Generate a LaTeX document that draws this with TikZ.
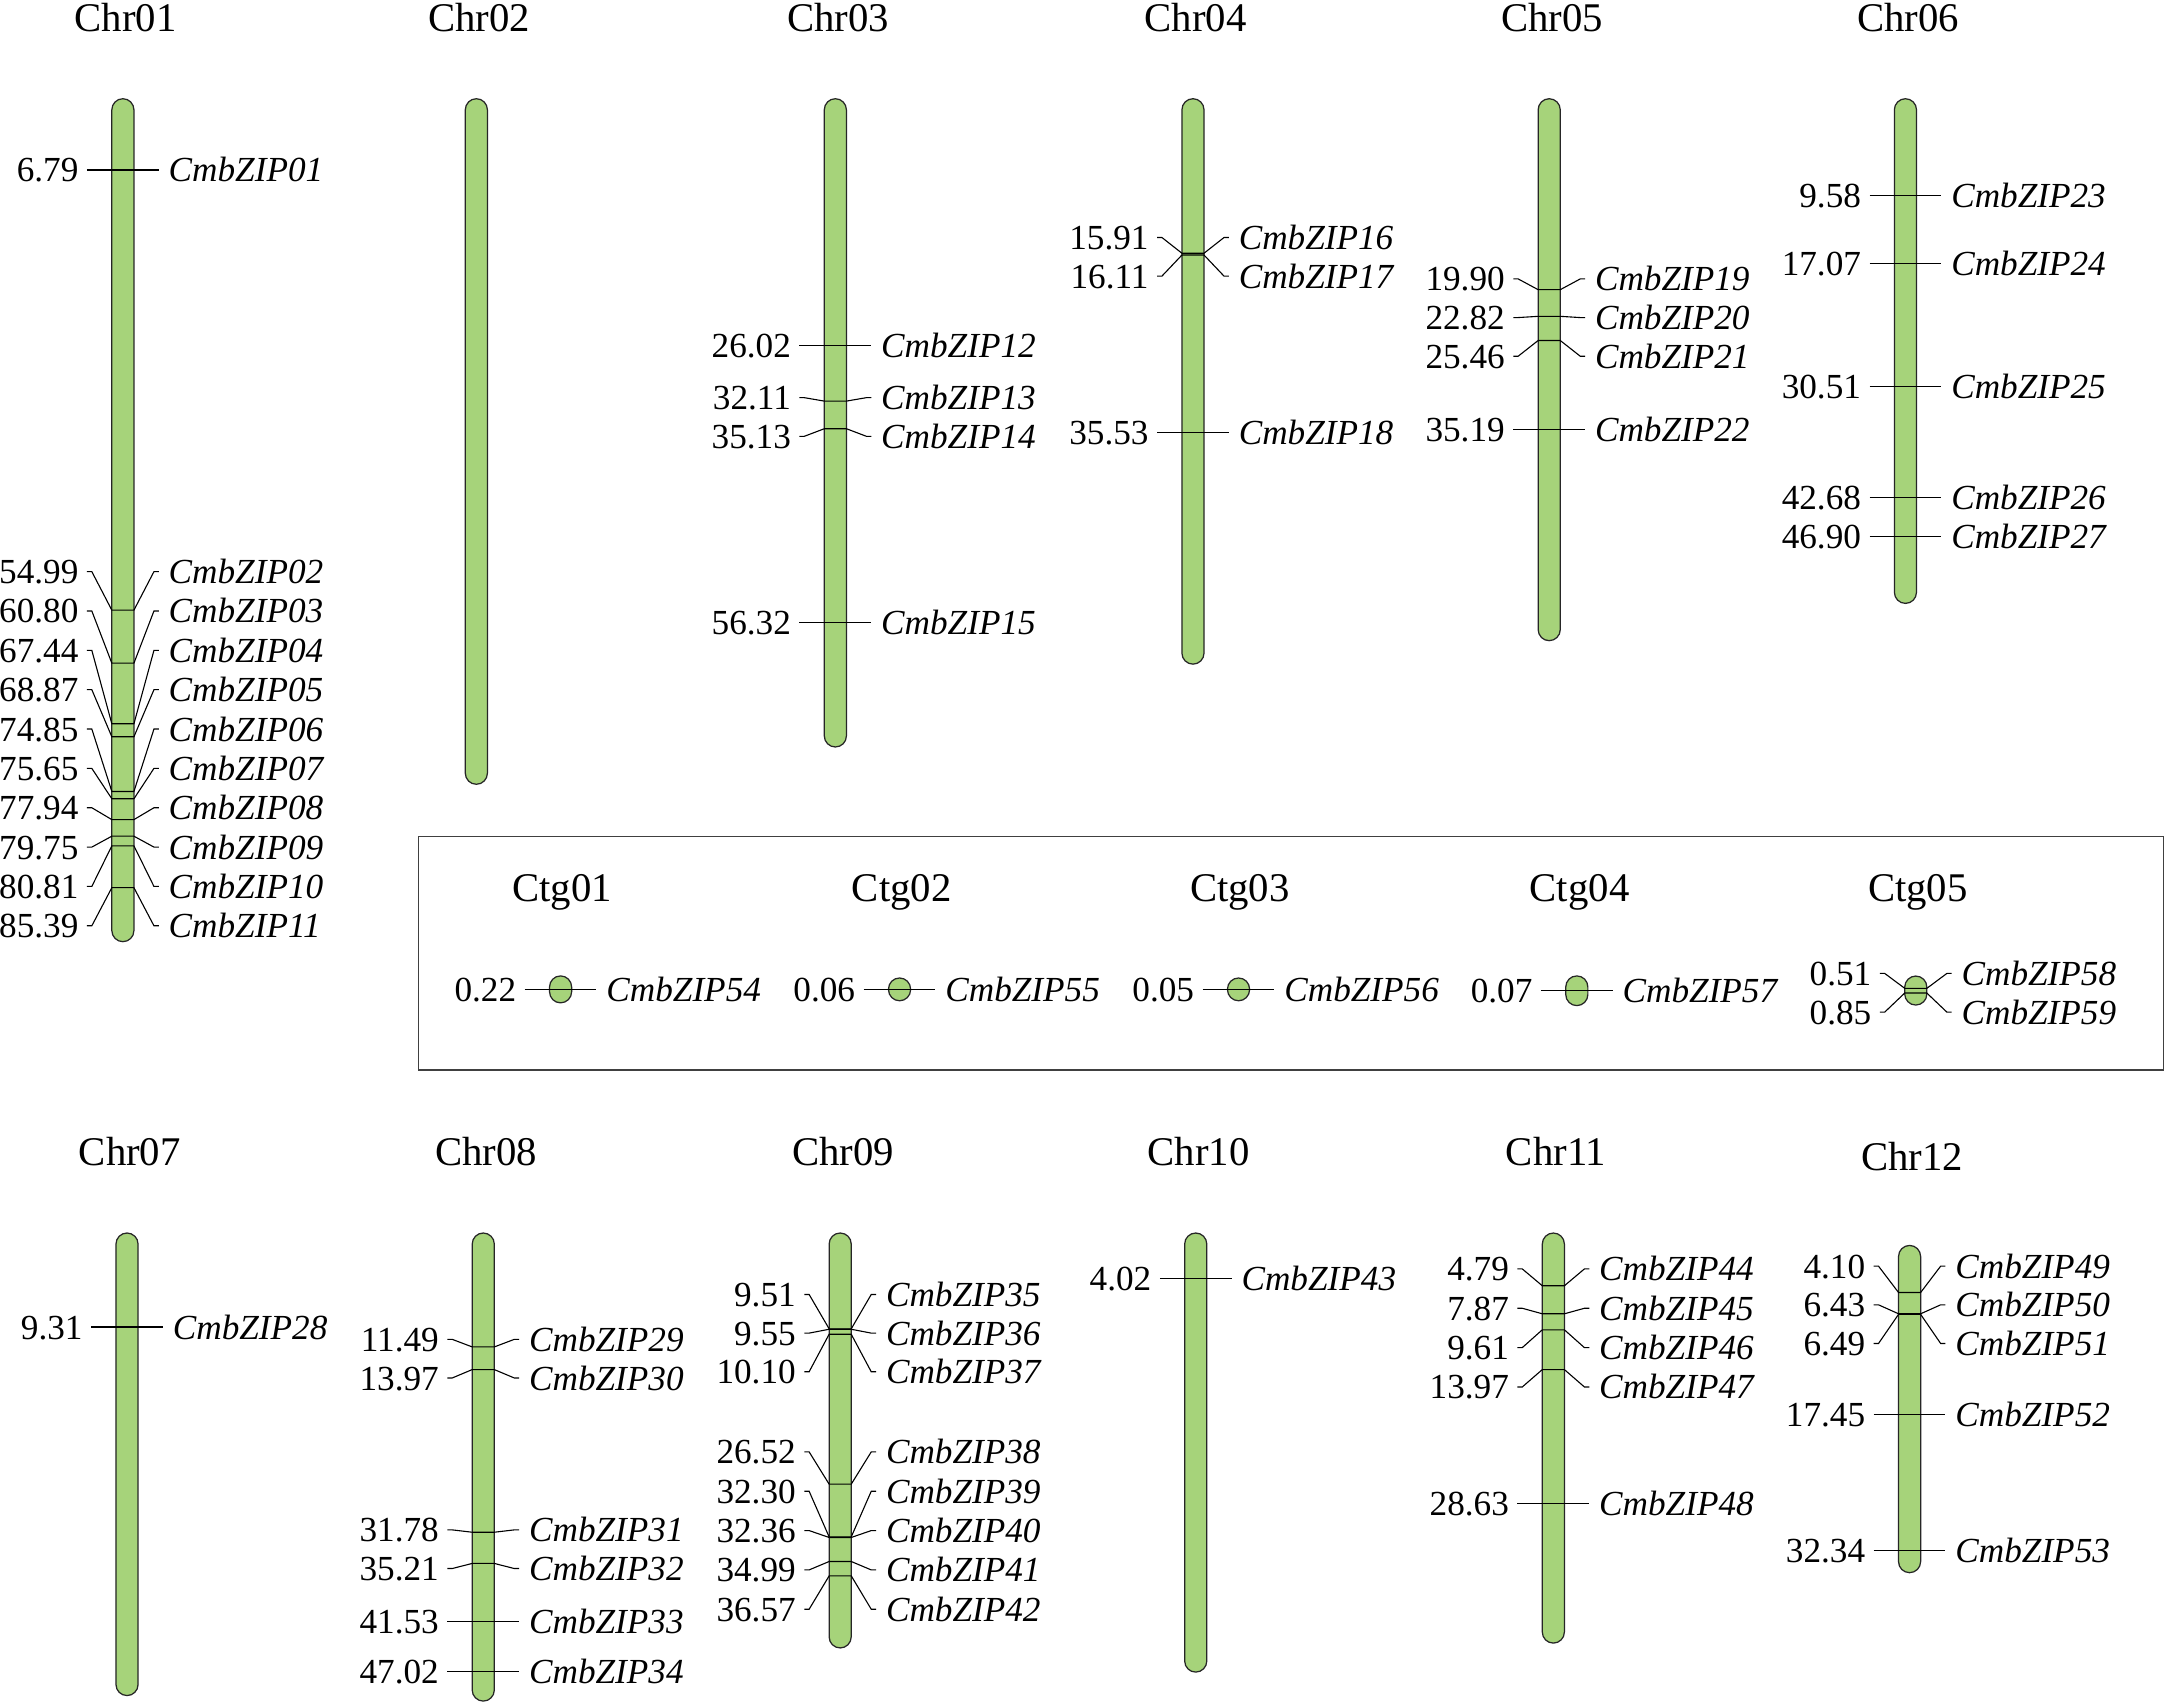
\documentclass[tikz,border=0pt]{standalone}
\usepackage{fontspec}
\setmainfont{Liberation Serif}
\newcommand\labfont{\fontsize{25.5}{30}\selectfont}
\newcommand\ttlfont{\fontsize{29.5}{34}\selectfont}
\definecolor{barfill}{RGB}{166,211,122}
\definecolor{boxline}{RGB}{64,64,64}
\tikzset{
  chrbar/.style={draw=black!85, line width=0.9pt, fill=barfill, rounded corners=8pt},
  mkline/.style={draw=black, line width=0.8pt, line join=miter},
  numlab/.style={anchor=east, inner sep=0pt, text height=17.4pt, text depth=0pt, font=\labfont},
  genelab/.style={anchor=west, inner sep=0pt, text height=17.4pt, text depth=0pt, font=\labfont\itshape},
  ttl/.style={anchor=base, inner sep=0pt, font=\ttlfont},
  ctgbox/.style={draw=boxline, line width=1.1pt}
}
% #1 name, #2 cx, #3 top, #4 bottom, #5 title baseline
\newcommand\mkchr[5]{%
  \node[ttl] (t-#1) at ({#2+2},#5) {#1};
  \path[chrbar] ({#2-8},#3) rectangle ({#2+8},#4);
  \coordinate (c-#1) at (#2,#3);
}
% #1 cx, #2 gene y, #3 label y, #4 number, #5 name
\newcommand\mkgene[5]{%
  \node[numlab] (n-#5) at ({#1-32},#3) {#4};
  \node[genelab] (g-#5) at ({#1+33},#3) {#5};
  \draw[mkline] ({#1-26},#3) -- ({#1-22.5},#3) -- ({#1-8},#2) -- ({#1+8},#2) -- ({#1+22.5},#3) -- ({#1+26},#3);
}
\begin{document}
\begin{tikzpicture}[x=1pt,y=-1pt]
\useasboundingbox (0,0) rectangle (1568,1234);
\fill[white] (0,0) rectangle (1568,1234);

% ---------- top row ----------
\mkchr{Chr01}{89}{71.5}{682}{23}
\mkgene{89}{123.1}{123.1}{6.79}{CmbZIP01}
\mkgene{89}{441.9}{414}{54.99}{CmbZIP02}
\mkgene{89}{480.3}{442.5}{60.80}{CmbZIP03}
\mkgene{89}{524.2}{471}{67.44}{CmbZIP04}
\mkgene{89}{533.6}{499.5}{68.87}{CmbZIP05}
\mkgene{89}{573.2}{528}{74.85}{CmbZIP06}
\mkgene{89}{578.5}{556.5}{75.65}{CmbZIP07}
\mkgene{89}{593.6}{585}{77.94}{CmbZIP08}
\mkgene{89}{605.6}{613.5}{79.75}{CmbZIP09}
\mkgene{89}{612.6}{642}{80.81}{CmbZIP10}
\mkgene{89}{642.9}{670.5}{85.39}{CmbZIP11}

\mkchr{Chr02}{345}{71.5}{568}{23}

\mkchr{Chr03}{605}{71.5}{541}{23}
\mkgene{605}{250.3}{250.3}{26.02}{CmbZIP12}
\mkgene{605}{290.5}{288}{32.11}{CmbZIP13}
\mkgene{605}{310.5}{316}{35.13}{CmbZIP14}
\mkgene{605}{450.6}{450.6}{56.32}{CmbZIP15}

\mkchr{Chr04}{864}{71.5}{481}{23}
\mkgene{864}{183.4}{172}{15.91}{CmbZIP16}
\mkgene{864}{184.7}{200}{16.11}{CmbZIP17}
\mkgene{864}{313.2}{313.2}{35.53}{CmbZIP18}

\mkchr{Chr05}{1122}{71.5}{464}{23}
\mkgene{1122}{209.8}{202}{19.90}{CmbZIP19}
\mkgene{1122}{229.1}{230}{22.82}{CmbZIP20}
\mkgene{1122}{246.6}{258}{25.46}{CmbZIP21}
\mkgene{1122}{310.9}{310.9}{35.19}{CmbZIP22}

\mkchr{Chr06}{1380}{71.5}{437}{23}
\mkgene{1380}{141.6}{141.6}{9.58}{CmbZIP23}
\mkgene{1380}{191.1}{191.1}{17.07}{CmbZIP24}
\mkgene{1380}{280.0}{280.0}{30.51}{CmbZIP25}
\mkgene{1380}{360.4}{360.4}{42.68}{CmbZIP26}
\mkgene{1380}{388.4}{388.4}{46.90}{CmbZIP27}

% ---------- contig box ----------
\draw[ctgbox] (303,606) rectangle (1567,775);
\node[ttl] (t-Ctg01) at (407,653) {Ctg01};
\node[ttl] (t-Ctg02) at (653,653) {Ctg02};
\node[ttl] (t-Ctg03) at (898,653) {Ctg03};
\node[ttl] (t-Ctg04) at (1144,653) {Ctg04};
\node[ttl] (t-Ctg05) at (1389,653) {Ctg05};

\path[chrbar] (398,706.8) rectangle (414,726.3);
\mkgene{406}{716.5}{716.5}{0.22}{CmbZIP54}
\path[chrbar] (643.5,708.3) rectangle (659.5,724.8);
\mkgene{651.5}{716.5}{716.5}{0.06}{CmbZIP55}
\path[chrbar] (889,708.3) rectangle (905,724.8);
\mkgene{897}{716.5}{716.5}{0.05}{CmbZIP56}
\path[chrbar] (1134,706.8) rectangle (1150,728.3);
\mkgene{1142}{717.5}{717.5}{0.07}{CmbZIP57}
\path[chrbar] (1379.5,706.9) rectangle (1395.5,727.9);
\mkgene{1387.5}{715.8}{705}{0.51}{CmbZIP58}
\mkgene{1387.5}{719.2}{733}{0.85}{CmbZIP59}

% ---------- bottom row ----------
\mkchr{Chr07}{92}{893}{1228}{844}
\mkgene{92}{961.1}{961.1}{9.31}{CmbZIP28}

\mkchr{Chr08}{350}{893}{1232}{844}
\mkgene{350}{975.5}{970}{11.49}{CmbZIP29}
\mkgene{350}{991.9}{998}{13.97}{CmbZIP30}
\mkgene{350}{1109.7}{1108}{31.78}{CmbZIP31}
\mkgene{350}{1132.3}{1136}{35.21}{CmbZIP32}
\mkgene{350}{1174.1}{1174.1}{41.53}{CmbZIP33}
\mkgene{350}{1210.4}{1210.4}{47.02}{CmbZIP34}

\mkchr{Chr09}{608.5}{893}{1193.5}{844}
\mkgene{608.5}{962.4}{937.5}{9.51}{CmbZIP35}
\mkgene{608.5}{962.7}{965.5}{9.55}{CmbZIP36}
\mkgene{608.5}{966.3}{993.5}{10.10}{CmbZIP37}
\mkgene{608.5}{1074.9}{1051.5}{26.52}{CmbZIP38}
\mkgene{608.5}{1113.1}{1080}{32.30}{CmbZIP39}
\mkgene{608.5}{1113.5}{1108.5}{32.36}{CmbZIP40}
\mkgene{608.5}{1130.9}{1137}{34.99}{CmbZIP41}
\mkgene{608.5}{1141.3}{1165.5}{36.57}{CmbZIP42}

\mkchr{Chr10}{866}{893}{1211}{844}
\mkgene{866}{926.1}{926.1}{4.02}{CmbZIP43}

\mkchr{Chr11}{1125}{893}{1190}{844}
\mkgene{1125}{931.2}{919}{4.79}{CmbZIP44}
\mkgene{1125}{951.5}{947.5}{7.87}{CmbZIP45}
\mkgene{1125}{963.1}{976}{9.61}{CmbZIP46}
\mkgene{1125}{991.9}{1004.5}{13.97}{CmbZIP47}
\mkgene{1125}{1088.8}{1088.8}{28.63}{CmbZIP48}

\mkchr{Chr12}{1383}{902}{1139}{848}
\mkgene{1383}{936.1}{917}{4.10}{CmbZIP49}
\mkgene{1383}{951.5}{945}{6.43}{CmbZIP50}
\mkgene{1383}{951.9}{973}{6.49}{CmbZIP51}
\mkgene{1383}{1024.4}{1024.4}{17.45}{CmbZIP52}
\mkgene{1383}{1122.9}{1122.9}{32.34}{CmbZIP53}
\end{tikzpicture}
\end{document}
